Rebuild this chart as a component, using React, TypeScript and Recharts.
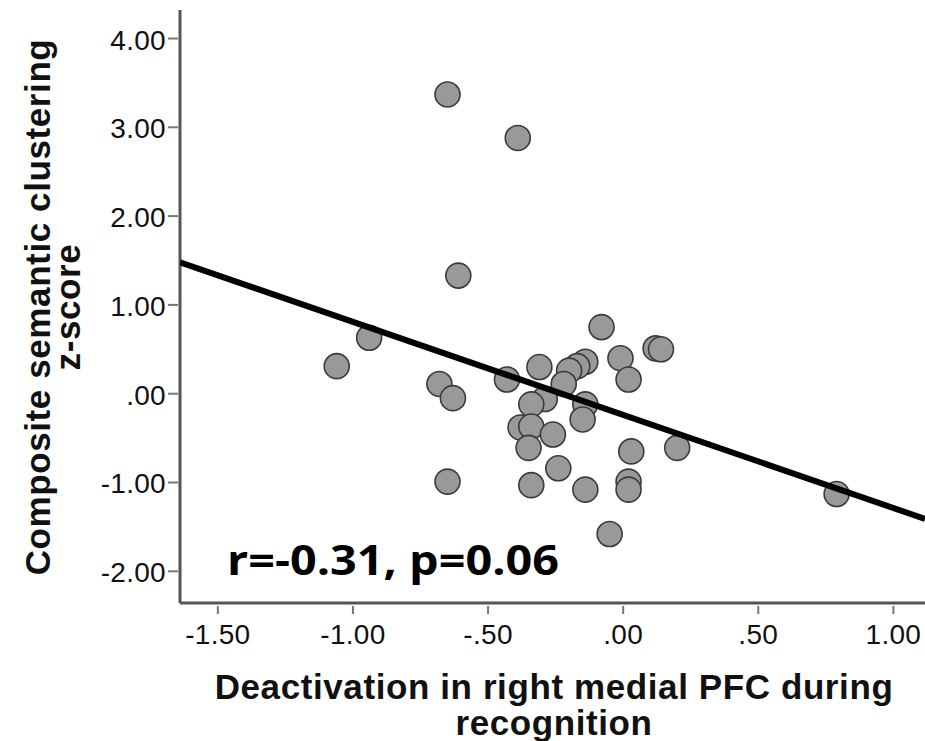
import React from "react";
import { ScatterChart, Scatter, XAxis, YAxis, Label } from "recharts";

// Data
const xValues = [-0.65, -0.39, -0.61, -0.94, -1.06, -0.68, -0.63, -0.65, -0.08, -0.31, -0.43, -0.14, -0.17, -0.2, -0.01, 0.02, -0.22, -0.29, -0.34, -0.14, -0.15, -0.38, -0.34, -0.26, -0.35, -0.24, -0.34, -0.14, 0.03, 0.02, 0.02, 0.2, -0.05, 0.79, 0.12, 0.14];
const yValues = [3.37, 2.88, 1.33, 0.63, 0.31, 0.11, -0.05, -0.99, 0.75, 0.3, 0.16, 0.36, 0.31, 0.26, 0.4, 0.16, 0.11, -0.06, -0.12, -0.12, -0.29, -0.38, -0.37, -0.46, -0.61, -0.84, -1.03, -1.08, -0.65, -0.99, -1.08, -0.61, -1.58, -1.13, 0.51, 0.5];

const fitLineX = [-1.64, 1.117];
const fitLineY = [1.48, -1.41];

const xTicks = [-1.5, -1, -0.5, 0, 0.5, 1];
const xTickLabels = ["-1.50", "-1.00", "-.50", ".00", ".50", "1.00"];
const yTicks = [-2, -1, 0, 1, 2, 3, 4];
const yTickLabels = ["-2.00", "-1.00", ".00", "1.00", "2.00", "3.00", "4.00"];

const xTitleLines = ["Deactivation in right medial PFC during", "recognition"];
const yTitleLines = ["Composite semantic clustering", "z-score"];
const annotation = "r=-0.31, p=0.06";

const points = xValues.map((x, i) => ({ x, y: yValues[i] }));
const fitData = fitLineX.map((x, i) => ({ x, y: fitLineY[i] }));

const FONT = "'Liberation Sans', Arial, sans-serif";

const XTick = (props: any) => {
  const { x, y, payload } = props;
  const idx = xTicks.indexOf(payload.value);
  return (
    <g>
      <line x1={x} x2={x} y1={y + 3} y2={y + 11} stroke="#777" strokeWidth={2} />
      <text x={x} y={y + 41} textAnchor="middle" fontSize={28} fill="#111" fontFamily={FONT} letterSpacing={0.3}>
        {idx >= 0 ? xTickLabels[idx] : ""}
      </text>
    </g>
  );
};

const YTick = (props: any) => {
  const { x, y, payload } = props;
  const idx = yTicks.indexOf(payload.value);
  return (
    <g>
      <line x1={x - 12} x2={x - 2} y1={y} y2={y} stroke="#777" strokeWidth={2} />
      <text x={x - 14} y={y + 11} textAnchor="end" fontSize={28} fill="#111" fontFamily={FONT} letterSpacing={0.3}>
        {idx >= 0 ? yTickLabels[idx] : ""}
      </text>
    </g>
  );
};

const Dot = (props: any) => {
  const { cx, cy } = props;
  if (cx == null || cy == null) return <g />;
  return <circle cx={cx} cy={cy} r={12.5} fill="#999999" stroke="#3a3a3a" strokeWidth={1.6} />;
};

const NoDot = () => <g />;

const XTitle = () => (
  <g>
    <text x={546} y={691} textAnchor="middle" fontSize={35} fontWeight="bold" fill="#111" fontFamily={FONT} letterSpacing={0.6}>
      {xTitleLines[0]}
    </text>
    <text x={546} y={727} textAnchor="middle" fontSize={35} fontWeight="bold" fill="#111" fontFamily={FONT} letterSpacing={0.6}>
      {xTitleLines[1]}
    </text>
    <text x={219} y={567} fontSize={42} fontWeight="bold" fill="#000" fontFamily="'Open Sans', 'Liberation Sans', sans-serif" textLength={332} lengthAdjust="spacingAndGlyphs">
      {annotation}
    </text>
  </g>
);

const YTitle = () => (
  <g>
    <text transform="translate(42, 299) rotate(-90)" textAnchor="middle" fontSize={35} fontWeight="bold" fill="#111" fontFamily={FONT} letterSpacing={0.6}>
      {yTitleLines[0]}
    </text>
    <text transform="translate(72, 299) rotate(-90)" textAnchor="middle" fontSize={35} fontWeight="bold" fill="#111" fontFamily={FONT} letterSpacing={0.6}>
      {yTitleLines[1]}
    </text>
  </g>
);

export default function App() {
  return (
    <div style={{ position: "absolute", left: 8, top: 8, width: 917, height: 733, background: "#fff", overflow: "hidden" }}>
      <ScatterChart width={917} height={733} margin={{ top: 2, right: 0, bottom: 0, left: 0 }}>
        <XAxis
          type="number"
          dataKey="x"
          domain={[-1.64, 1.117]}
          ticks={xTicks}
          allowDataOverflow
          height={138}
          tickSize={0}
          tickMargin={0}
          tickLine={false}
          axisLine={{ stroke: "#555", strokeWidth: 3 }}
          tick={<XTick />}
          interval={0}
        >
          <Label content={() => <XTitle />} />
        </XAxis>
        <YAxis
          type="number"
          dataKey="y"
          domain={[-2.357, 4.321]}
          ticks={yTicks}
          allowDataOverflow
          width={172}
          tickSize={0}
          tickMargin={0}
          tickLine={false}
          axisLine={{ stroke: "#555", strokeWidth: 3 }}
          tick={<YTick />}
          interval={0}
        >
          <Label content={() => <YTitle />} />
        </YAxis>
        <Scatter data={points} shape={<Dot />} isAnimationActive={false} />
        <Scatter
          data={fitData}
          shape={<NoDot />}
          line={{ stroke: "#000", strokeWidth: 6 }}
          lineType="joint"
          isAnimationActive={false}
        />
      </ScatterChart>
    </div>
  );
}
